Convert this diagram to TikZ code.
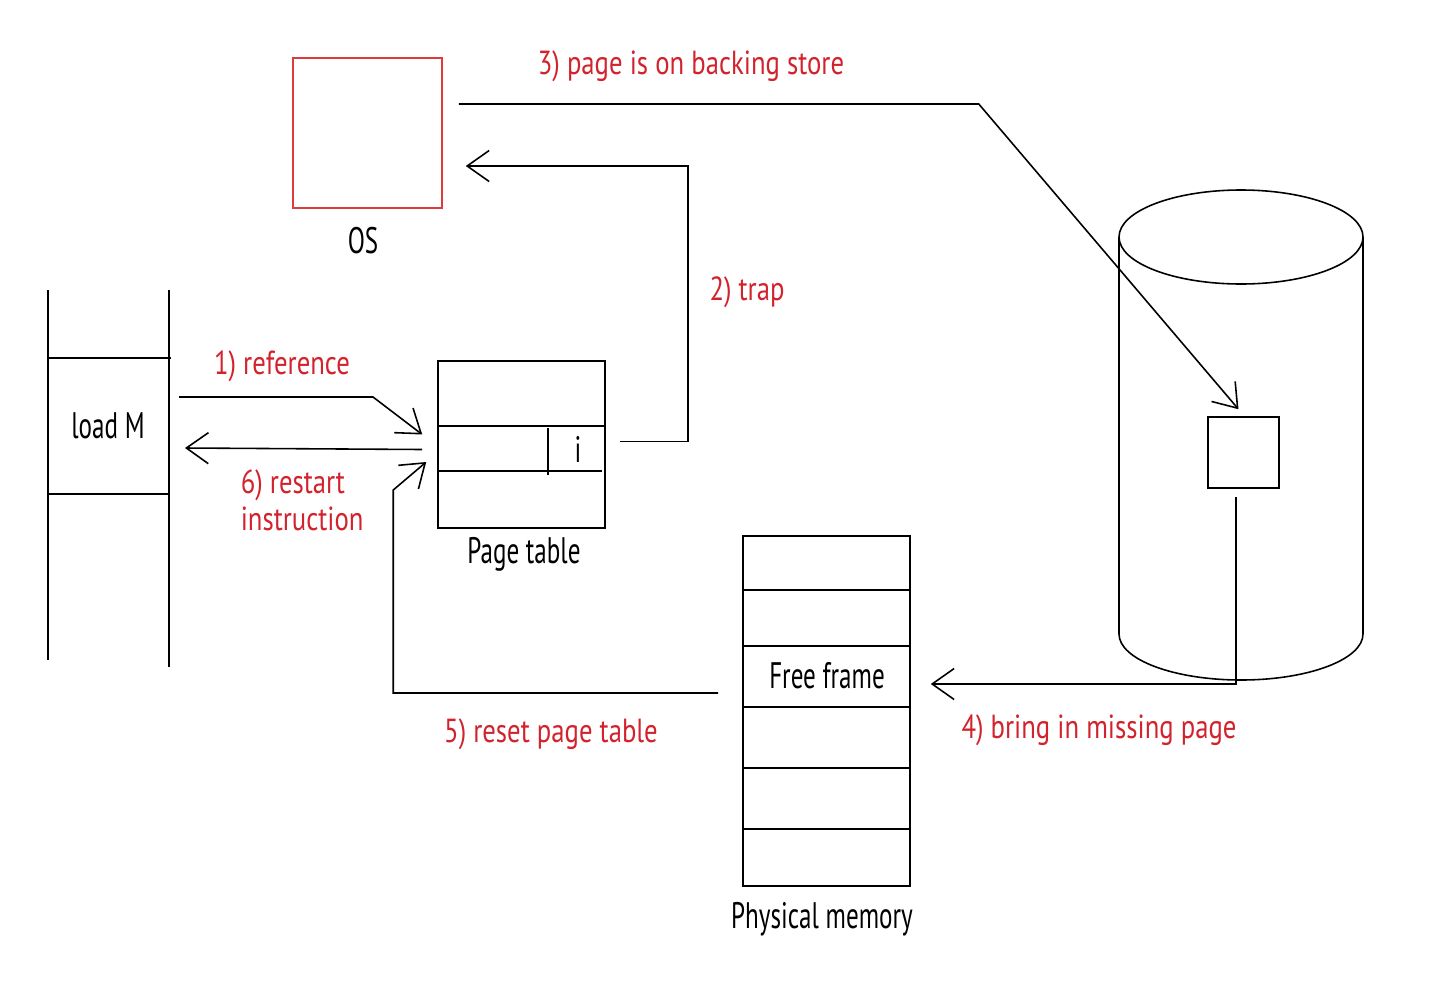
\documentclass[tikz,border=0pt]{standalone}
\usepackage{fontspec}
\setmainfont[FakeStretch=0.8]{PT Sans}
\newfontfamily\capfont[FakeStretch=0.68]{PT Sans}
\usetikzlibrary{arrows.meta}
\definecolor{InkRed}{RGB}{210, 35, 45}
\definecolor{BoxRed}{RGB}{222, 60, 60}

\begin{document}
\begin{tikzpicture}[
    x=0.02cm, y=-0.02cm,
    line width=0.9pt,
    box/.style={draw, line width=0.9pt, inner sep=0pt},
    flow/.style={-{Straight Barb[length=0.44cm, width=0.62cm]}, line width=0.9pt},
    note/.style={text=InkRed, font=\fontsize{19}{20.5}\selectfont, inner sep=0pt, anchor=base},
    caption/.style={font=\capfont\fontsize{21}{24}\selectfont, inner sep=0pt, anchor=base}
]
    \useasboundingbox (0,0) rectangle (1440,994);

    % Program stack
    \draw (48,290) -- (48,660);
    \draw (169,290) -- (169,667);
    \draw (48,358) -- (171,358);
    \draw (48,494) -- (169,494);
    \node[caption] (instr) at (108,438) {load M};
    \coordinate (refout) at (179,397);
    \coordinate (restartin) at (185,448);

    % OS
    \node[box, draw=BoxRed, minimum width=2.98cm, minimum height=3cm] (os) at (367.5,133) {};
    \node[caption] (oslabel) at (363,253) {OS};

    % Page table
    \node[box, minimum width=3.34cm, minimum height=3.34cm] (pt) at (521.5,444.5) {};
    \draw (438,426) -- (605,426);
    \draw (438,471) -- (602,471);
    \draw (548,428) -- (548,475);
    \node[caption] (bit) at (578,462) {i};
    \node[caption] (ptlabel) at (524,563) {Page table};

    % Physical memory
    \node[box, minimum width=3.34cm, minimum height=7cm] (pm) at (826.5,711) {};
    \foreach \y in {590,646,707,768,829}
        \draw (743,\y) -- (910,\y);
    \node[caption] (free) at (827,688) {Free frame};
    \node[caption] (pmlabel) at (822,928) {Physical memory};

    % Backing store
    \draw (1241,237) ellipse [x radius=122, y radius=47];
    \draw (1119,237) -- (1119,634) arc[start angle=180, end angle=0, x radius=122, y radius=46] -- (1363,237);
    \node[box, minimum width=1.42cm, minimum height=1.42cm] (blk) at (1243.5,452.5) {};

    % Steps
    \draw[flow] (refout) -- (373,397) -- ([shift={(-15,-10)}]pt.west);
    \node[note] (n1) at (282,374) {1) reference};

    \draw[flow] ([shift={(14,-3)}]pt.east) -- ++(68,0) |- ([shift={(23,33)}]os.east);
    \node[note] (n2) at (747,300) {2) trap};

    \draw[flow] ([shift={(16,-29)}]os.east) -- ++(520,0) -- ([shift={(-5,-7)}]blk.north);
    \node[note] (n3) at (691,74) {3) page is on backing store};

    \draw[flow] ([shift={(-7.5,8)}]blk.south) |- ([shift={(20,-27)}]pm.east);
    \node[note] (n4) at (1099,738) {4) bring in missing page};

    \draw[flow] ([shift={(-24,-18)}]pm.west) -| ++(-325,-203) -- ([shift={(-11,17.5)}]pt.west);
    \node[note] (n5) at (551,742) {5) reset page table};

    \draw[flow] ([shift={(-15,5)}]pt.west) -- (restartin);
    \node[note, anchor=base west, align=left] (n6) at (240,530) {6) restart\\instruction};
\end{tikzpicture}
\end{document}
